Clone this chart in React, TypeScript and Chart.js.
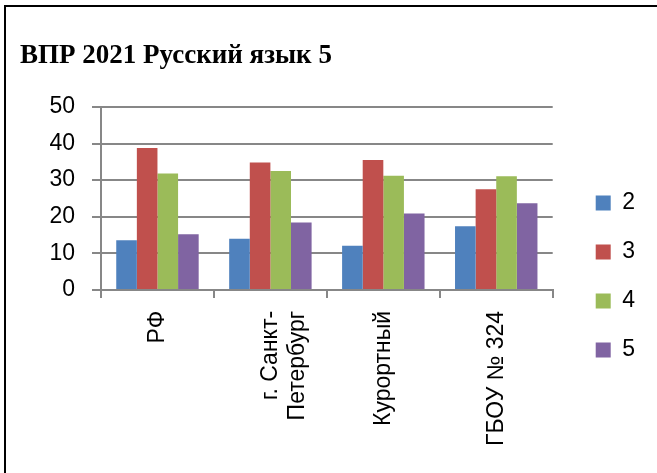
import { useEffect, useRef } from 'react';
import { Chart, registerables } from 'chart.js';

Chart.register(...registerables);

const categories: (string | string[])[] = ['РФ', ['г. Санкт-', 'Петербург'], 'Курортный', 'ГБОУ № 324'];
const seriesNames = ['2', '3', '4', '5'];
const grade2 = [13.6, 14.0, 12.1, 17.4];
const grade3 = [38.8, 34.8, 35.5, 27.5];
const grade4 = [31.8, 32.5, 31.2, 31.1];
const grade5 = [15.2, 18.4, 20.9, 23.7];
const yTicks = [0, 10, 20, 30, 40, 50];
const titleText = 'ВПР 2021 Русский язык 5';

const seriesColors = ['#4F81BD', '#C0504D', '#9BBB59', '#8064A2'];
const SANS = "'Liberation Sans', Arial, sans-serif";
const SERIF = "'Liberation Serif', 'Times New Roman', serif";
const GRID = '#878787';

export default function App() {
  const ref = useRef<HTMLCanvasElement | null>(null);

  useEffect(() => {
    if (!ref.current) return;
    const values = [grade2, grade3, grade4, grade5];
    const chart = new Chart(ref.current, {
      type: 'bar',
      data: {
        labels: categories as any,
        datasets: seriesNames.map((name, i) => ({
          label: name,
          data: values[i],
          backgroundColor: seriesColors[i],
          borderWidth: 0,
          categoryPercentage: 0.73,
          barPercentage: 1,
        })),
      },
      options: {
        animation: false,
        responsive: false,
        events: [],
        layout: { padding: { top: 0, left: 20, right: 12, bottom: 14 } },
        plugins: {
          title: {
            display: true,
            text: titleText,
            align: 'start',
            color: '#000',
            font: { family: SERIF, size: 27, weight: 'bold' },
            padding: { top: 40, bottom: 34.6 },
          },
          legend: {
            position: 'right',
            title: { display: true, text: '', font: { size: 10 }, padding: { top: 82, bottom: 0 } },
            labels: {
              boxWidth: 15,
              boxHeight: 15,
              padding: 26,
              color: '#000',
              font: { family: SANS, size: 23 },
            },
          },
          tooltip: { enabled: false },
        },
        scales: {
          x: {
            offset: true,
            grid: {
              offset: true,
              drawOnChartArea: false,
              drawTicks: true,
              tickLength: 8,
              color: GRID,
              lineWidth: 2,
            },
            border: { color: GRID, width: 2 },
            ticks: {
              maxRotation: 90,
              minRotation: 90,
              autoSkip: false,
              padding: 13,
              color: '#000',
              font: { family: SANS, size: 23 },
            },
          },
          y: {
            min: 0,
            max: 50,
            afterBuildTicks: (s: any) => {
              s.ticks = yTicks.map((v) => ({ value: v }));
            },
            grid: { color: GRID, lineWidth: 2, tickLength: 9 },
            border: { color: GRID, width: 2 },
            ticks: {
              padding: 17,
              color: '#000',
              font: { family: SANS, size: 23 },
            },
            afterFit: (s: any) => {
              s.width = 81;
            },
          },
          gap: {
            type: 'linear',
            position: 'right',
            display: true,
            grid: { display: false, drawTicks: false },
            border: { display: false },
            ticks: { display: false },
            afterFit: (s: any) => {
              s.width = 17;
            },
          },
        },
      } as any,
    });
    return () => chart.destroy();
  }, []);

  return (
    <div
      style={{
        position: 'fixed',
        left: 0,
        top: 0,
        width: 657,
        height: 473,
        background: '#fff',
        overflow: 'hidden',
      }}
    >
      <canvas ref={ref} width={657} height={473} style={{ position: 'absolute', left: 0, top: 0 }} />
      <div
        style={{
          position: 'absolute',
          left: 4,
          top: 5,
          width: 700,
          height: 520,
          borderLeft: '2px solid #000',
          borderTop: '2px solid #000',
          pointerEvents: 'none',
        }}
      />
    </div>
  );
}
